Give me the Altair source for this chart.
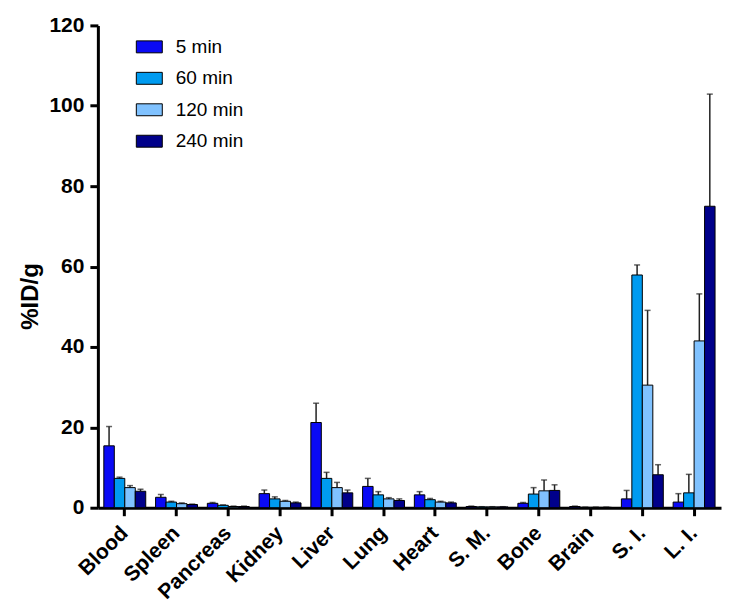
import altair as alt
import pandas as pd

organs = ["Blood", "Spleen", "Pancreas", "Kidney", "Liver", "Lung", "Heart",
          "S. M.", "Bone", "Brain", "S. I.", "L. I."]
series = ["5 min", "60 min", "120 min", "240 min"]
colors = ["#0A0AF5", "#009BF0", "#80C2FF", "#00008A"]

m5 = [15.4, 2.6, 1.1, 3.5, 21.2, 5.3, 3.2, 0.3, 1.1, 0.3, 2.2, 1.4]
e5 = [4.8, 0.7, 0.2, 0.9, 4.8, 2.0, 0.8, 0.1, 0.2, 0.1, 2.1, 2.1]
m60 = [7.3, 1.4, 0.6, 2.2, 7.3, 3.2, 2.0, 0.2, 3.4, 0.1, 57.9, 3.7]
e60 = [0.3, 0.2, 0.1, 0.5, 1.5, 0.8, 0.3, 0.05, 1.6, 0.05, 2.5, 4.6]
m120 = [5.0, 1.0, 0.3, 1.6, 5.0, 2.2, 1.4, 0.2, 4.2, 0.1, 30.5, 41.5]
e120 = [0.5, 0.2, 0.1, 0.2, 1.3, 0.3, 0.2, 0.05, 2.7, 0.05, 18.6, 11.7]
m240 = [4.1, 0.8, 0.3, 1.2, 3.7, 1.8, 1.2, 0.2, 4.3, 0.1, 8.2, 75.0]
e240 = [0.5, 0.1, 0.1, 0.2, 0.7, 0.4, 0.2, 0.05, 1.4, 0.05, 2.5, 27.9]

means = [m5, m60, m120, m240]
errs = [e5, e60, e120, e240]

rows = []
for s, mv, ev in zip(series, means, errs):
    for o, m, e in zip(organs, mv, ev):
        rows.append({"organ": o, "series": s, "value": m, "top": m + e})
df = pd.DataFrame(rows)

FONT = "Liberation Sans"

xenc = alt.X("organ:N", sort=organs, title=None,
             scale=alt.Scale(paddingInner=0.19, paddingOuter=0.115),
             axis=alt.Axis(labelAngle=-45, labelAlign="right", labelBaseline="middle",
                           labelFont=FONT, labelFontSize=21, labelFontWeight="bold",
                           labelColor="black", labelPadding=14,
                           domainColor="black", domainWidth=3,
                           tickColor="black", tickWidth=3, tickSize=8))
xoff = alt.XOffset("series:N", sort=series, scale=alt.Scale(paddingInner=0, paddingOuter=0))

yscale = alt.Scale(domain=[0, 120], nice=False)

base = alt.Chart(df)

bars = base.mark_bar(stroke="black", strokeWidth=1).encode(
    x=xenc, xOffset=xoff,
    y=alt.Y("value:Q", scale=yscale, title="%ID/g",
            axis=alt.Axis(values=[0, 20, 40, 60, 80, 100, 120], grid=False,
                          labelFont=FONT, labelFontSize=21, labelFontWeight="bold",
                          labelColor="black", labelPadding=6,
                          titleFont=FONT, titleFontSize=24, titleFontWeight="bold",
                          titleColor="black", titlePadding=6, titleY=271,
                          domainColor="black", domainWidth=3,
                          tickColor="black", tickWidth=3, tickSize=8)),
    color=alt.Color("series:N", sort=series,
                    scale=alt.Scale(domain=series, range=colors),
                    legend=alt.Legend(title=None, orient="none", legendX=38, legendY=8,
                                      symbolType="M-1,-0.46L1,-0.46L1,0.46L-1,0.46Z",
                                      symbolSize=676, symbolStrokeColor="black",
                                      symbolStrokeWidth=1, symbolOpacity=1,
                                      labelFont=FONT, labelFontSize=19,
                                      labelColor="black", labelOffset=13,
                                      rowPadding=7.5)),
)

rules = base.mark_rule(color="#222222", strokeWidth=1.5).encode(
    x=xenc, xOffset=xoff,
    y=alt.Y("value:Q", scale=yscale),
    y2="top:Q",
)

caps = base.mark_tick(color="#222222", thickness=1.5, size=6).encode(
    x=xenc, xOffset=xoff,
    y=alt.Y("top:Q", scale=yscale),
)

chart = alt.layer(rules, caps, bars).properties(
    width=624, height=483,
    padding={"left": 10, "top": 6, "right": 5, "bottom": 0},
).configure_view(stroke=None)

chart.save("out.html", embed_options={"renderer": "svg", "actions": False})
